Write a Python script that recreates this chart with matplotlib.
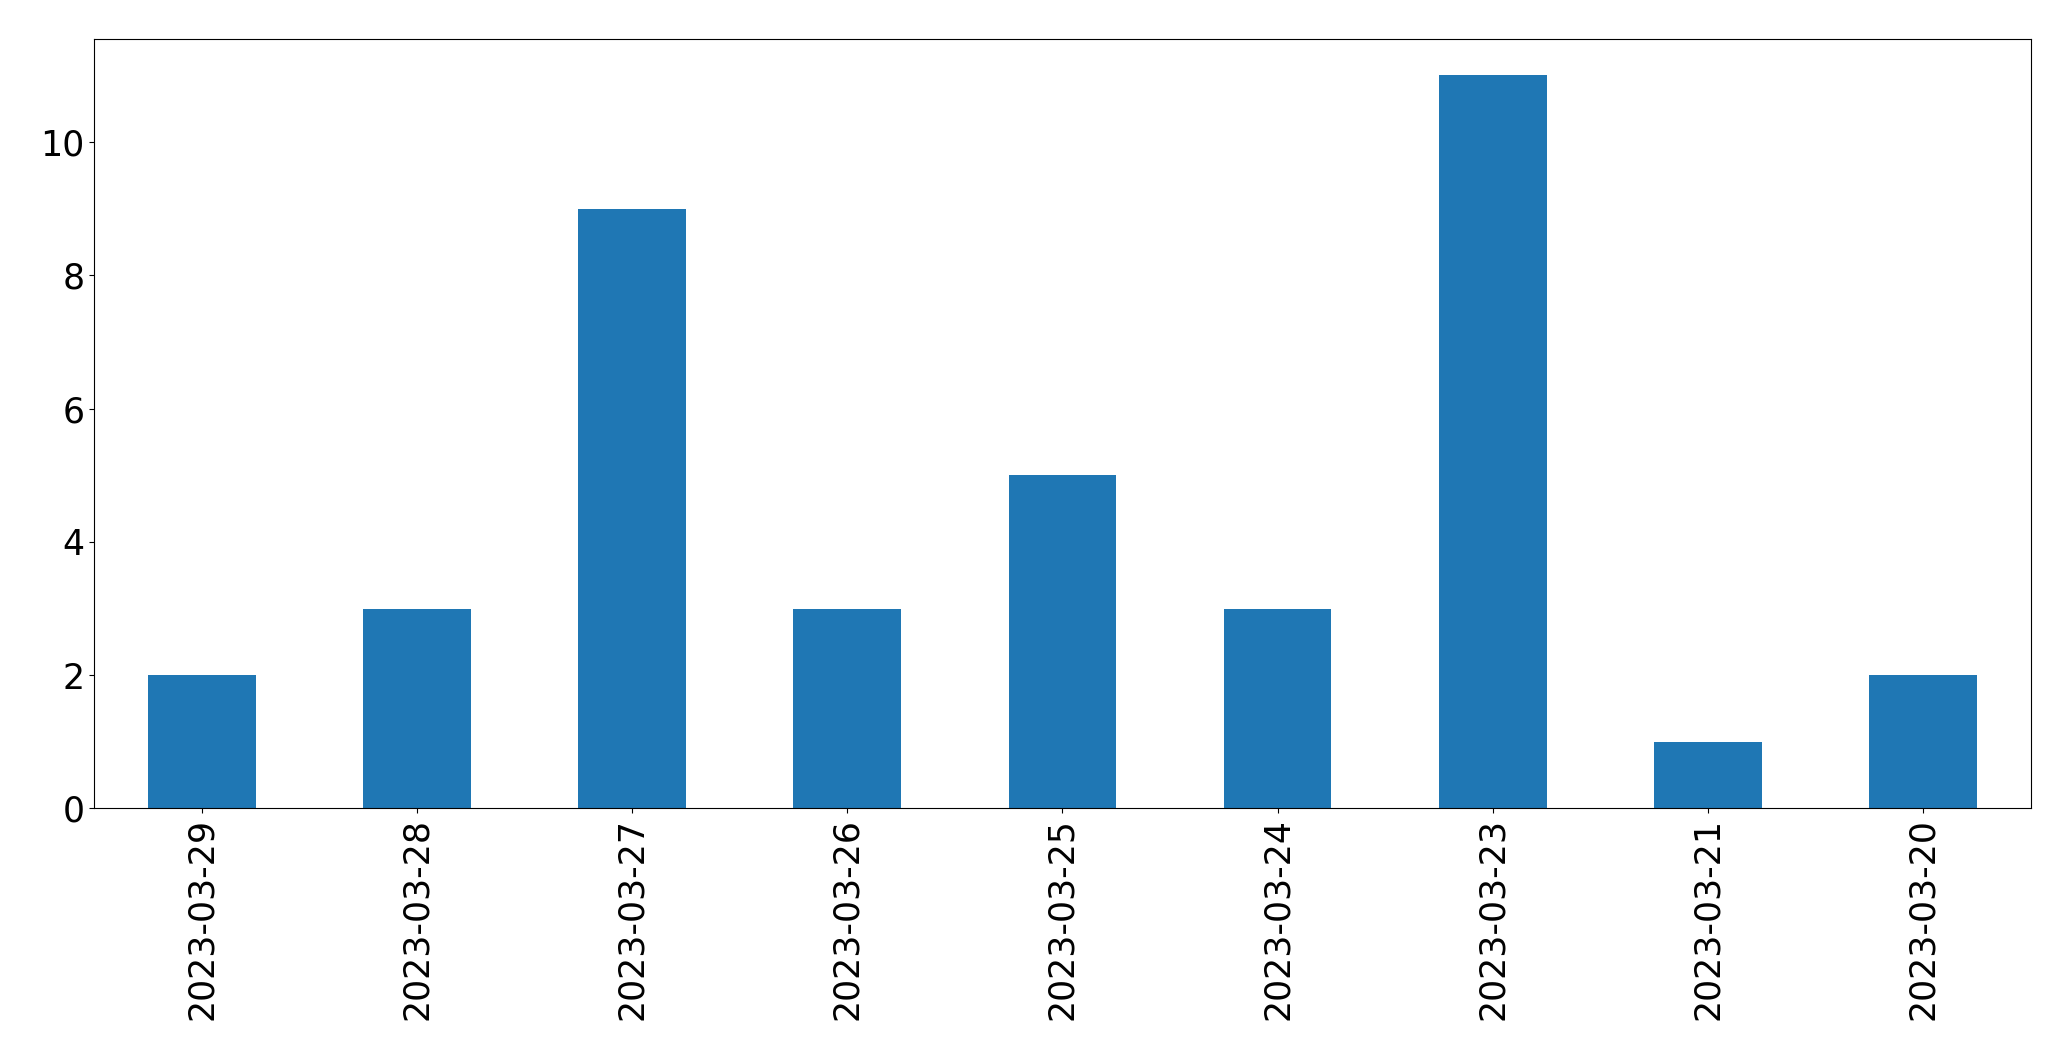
import matplotlib
matplotlib.use("Agg")
import matplotlib.pyplot as plt

# dias e contagens
datas = ['2023-03-29', '2023-03-28', '2023-03-27', '2023-03-26', '2023-03-25',
         '2023-03-24', '2023-03-23', '2023-03-21', '2023-03-20']
contagens = [2, 3, 9, 3, 5, 3, 11, 1, 2]

fig = plt.figure(figsize=(20.71, 10.61), dpi=100)
ax = fig.add_axes([0.0455, 0.238, 0.935, 0.7255])
posicoes = range(len(datas))
ax.bar(posicoes, contagens, width=0.5, color='#1f77b4')
ax.set_xlim(-0.5, len(datas) - 0.5)
ax.set_xticks(list(posicoes))
ax.set_xticklabels(datas, rotation=90)
ax.tick_params(axis='both', labelsize=25)
fig.savefig('out.png', dpi=100)
